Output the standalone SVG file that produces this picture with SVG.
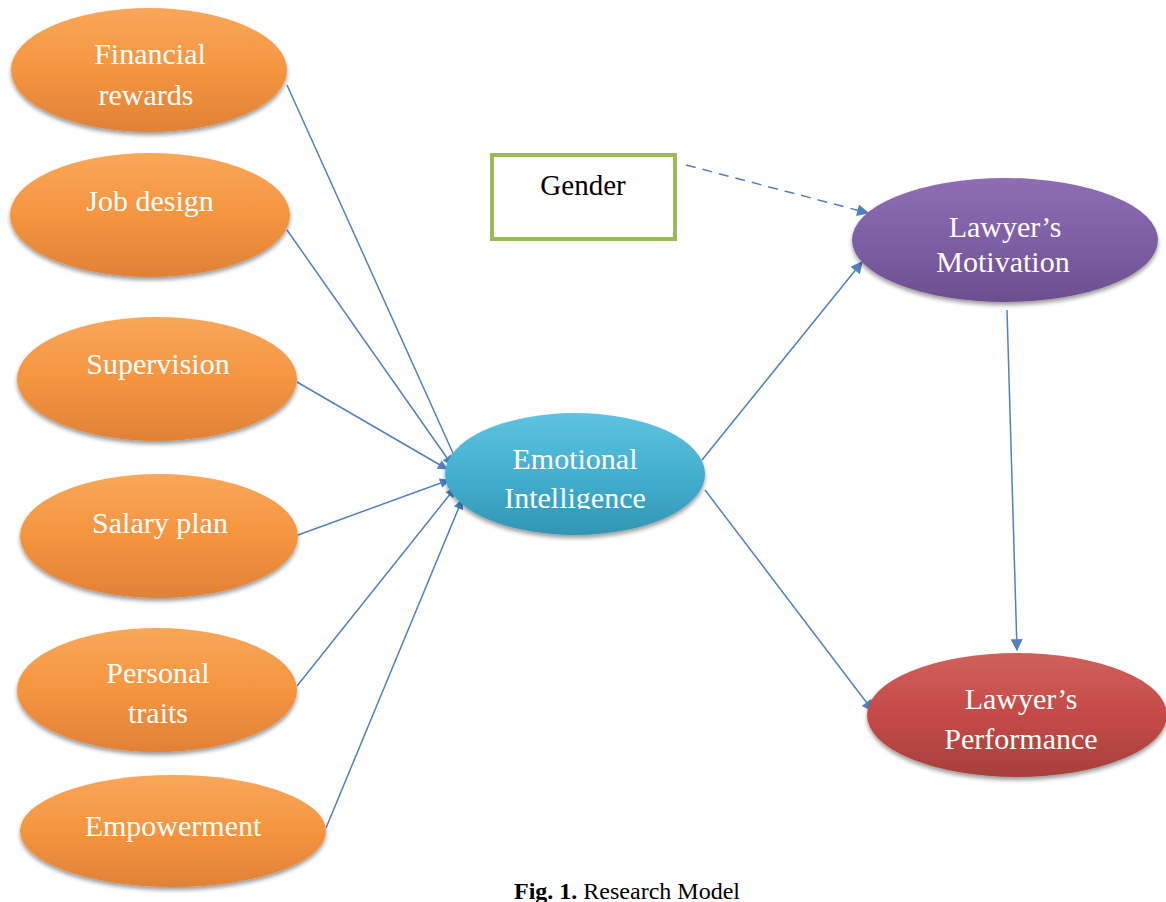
<svg xmlns="http://www.w3.org/2000/svg" width="1166" height="902" viewBox="0 0 1166 902">
<defs>
<linearGradient id="gOr" x1="0" y1="0" x2="0" y2="1"><stop offset="0" stop-color="#F8A75A"/><stop offset="0.5" stop-color="#F5953F"/><stop offset="1" stop-color="#E08136"/></linearGradient>
<linearGradient id="gBl" x1="0" y1="0" x2="0" y2="1"><stop offset="0" stop-color="#5FC3E0"/><stop offset="0.5" stop-color="#43AFCF"/><stop offset="1" stop-color="#3296B3"/></linearGradient>
<linearGradient id="gPu" x1="0" y1="0" x2="0" y2="1"><stop offset="0" stop-color="#8E6DB4"/><stop offset="0.5" stop-color="#7E5FA5"/><stop offset="1" stop-color="#6C4F8F"/></linearGradient>
<linearGradient id="gRe" x1="0" y1="0" x2="0" y2="1"><stop offset="0" stop-color="#D0605C"/><stop offset="0.5" stop-color="#C44A47"/><stop offset="1" stop-color="#A83F3C"/></linearGradient>
<filter id="sh" x="-10%" y="-10%" width="120%" height="130%"><feGaussianBlur in="SourceAlpha" stdDeviation="2"/><feOffset dx="0" dy="3"/><feComponentTransfer><feFuncA type="linear" slope="0.4"/></feComponentTransfer><feMerge><feMergeNode/><feMergeNode in="SourceGraphic"/></feMerge></filter>
<clipPath id="eiClip"><rect x="440" y="400" width="280" height="109"/></clipPath>
<marker id="ar" viewBox="0 0 10 10" refX="9" refY="5" markerWidth="11" markerHeight="10" markerUnits="userSpaceOnUse" orient="auto"><path d="M0,0 L10,5 L0,10 z" fill="#4F81BD"/></marker>
<marker id="arL" viewBox="0 0 10 10" refX="9" refY="5" markerWidth="15" markerHeight="12" markerUnits="userSpaceOnUse" orient="auto"><path d="M0,0 L10,5 L0,10 z" fill="#4F81BD"/></marker>
</defs>
<style>
.n{stroke:none;filter:url(#sh)}
.t{font-family:"Liberation Serif","Times New Roman",serif;font-size:30px;fill:#fff;text-anchor:middle}
.c{stroke:#4F81BD;stroke-width:1.5;fill:none}
</style>
<rect width="1166" height="902" fill="#fff"/>
<g id="connectors">
<line class="c" x1="287" y1="85" x2="457" y2="462" marker-end="url(#ar)"/>
<line class="c" x1="287" y1="230" x2="452" y2="465" marker-end="url(#ar)"/>
<line class="c" x1="297" y1="382" x2="447" y2="469" marker-end="url(#ar)"/>
<line class="c" x1="298" y1="535" x2="449" y2="480" marker-end="url(#ar)"/>
<line class="c" x1="297" y1="686" x2="455" y2="488" marker-end="url(#ar)"/>
<line class="c" x1="326" y1="828" x2="462" y2="500" marker-end="url(#ar)"/>
<line class="c" x1="702" y1="460" x2="862" y2="262" marker-end="url(#arL)"/>
<line class="c" x1="705" y1="490" x2="873" y2="711" marker-end="url(#arL)"/>
<line class="c" x1="686" y1="165" x2="868" y2="213" stroke-dasharray="10,7" marker-end="url(#arL)"/>
<line class="c" x1="1007" y1="310" x2="1017" y2="650" marker-end="url(#arL)"/>
</g>
<g id="financial"><ellipse class="n" cx="149" cy="70" rx="138" ry="62" fill="url(#gOr)"/><text class="t" x="150" y="64">Financial</text><text class="t" x="146" y="105">rewards</text></g>
<g id="jobdesign"><ellipse class="n" cx="150" cy="215" rx="140" ry="62" fill="url(#gOr)"/><text class="t" x="150" y="211">Job design</text></g>
<g id="supervision"><ellipse class="n" cx="157" cy="379" rx="140" ry="62" fill="url(#gOr)"/><text class="t" x="158" y="374">Supervision</text></g>
<g id="salary"><ellipse class="n" cx="159" cy="536" rx="139" ry="62" fill="url(#gOr)"/><text class="t" x="160" y="533">Salary plan</text></g>
<g id="traits"><ellipse class="n" cx="157" cy="690" rx="140" ry="62" fill="url(#gOr)"/><text class="t" x="158" y="683">Personal</text><text class="t" x="158" y="723">traits</text></g>
<g id="empowerment"><ellipse class="n" cx="173" cy="831" rx="153" ry="56" fill="url(#gOr)"/><text class="t" x="173" y="836">Empowerment</text></g>
<g id="ei"><ellipse class="n" cx="575" cy="474" rx="130" ry="61" fill="url(#gBl)"/><text class="t" x="575" y="469">Emotional</text><text class="t" x="575" y="508" clip-path="url(#eiClip)">Intelligence</text></g>
<g id="gender"><rect x="492" y="155" width="183" height="84" fill="#fff" stroke="#9BBB59" stroke-width="4"/><text x="583" y="195" font-family="'Liberation Serif','Times New Roman',serif" font-size="29" fill="#000" text-anchor="middle">Gender</text></g>
<g id="motivation"><ellipse class="n" cx="1005" cy="240" rx="153" ry="62" fill="url(#gPu)"/><text class="t" x="1005" y="237">Lawyer’s</text><text class="t" x="1003" y="272">Motivation</text></g>
<g id="performance"><ellipse class="n" cx="1017" cy="715" rx="150" ry="62" fill="url(#gRe)"/><text class="t" x="1021" y="709">Lawyer’s</text><text class="t" x="1021" y="749">Performance</text></g>
<text x="627" y="899" font-family="'Liberation Serif','Times New Roman',serif" font-size="24" fill="#000" text-anchor="middle"><tspan font-weight="bold">Fig. 1.</tspan> Research Model</text>
</svg>
